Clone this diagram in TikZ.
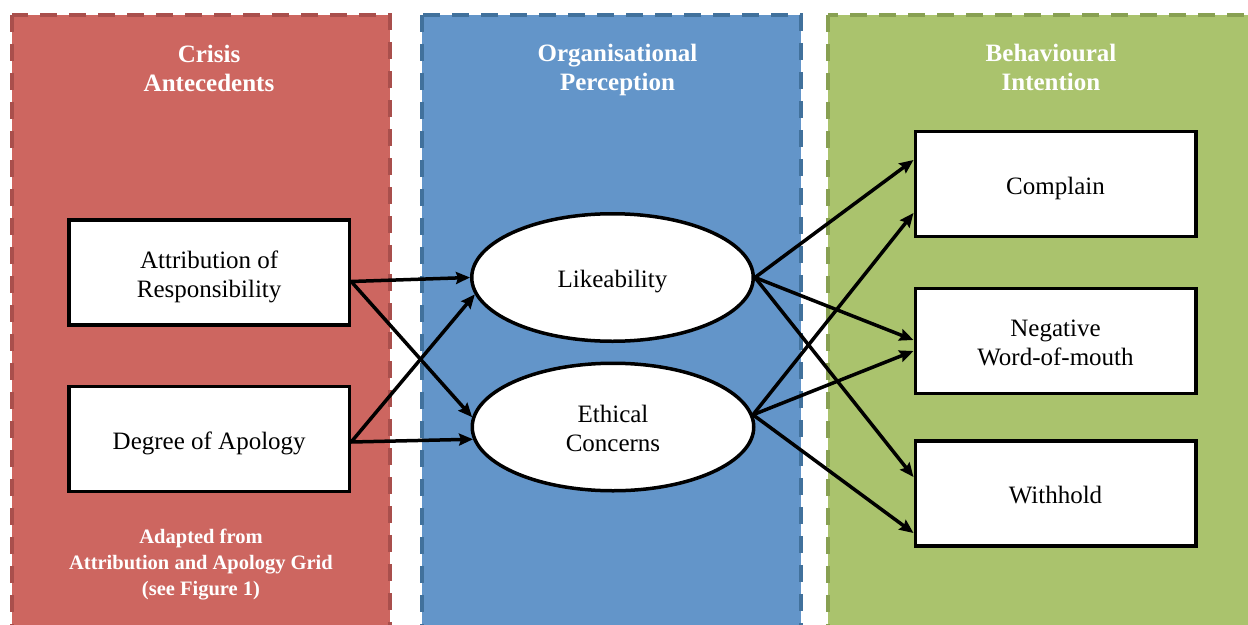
\documentclass[tikz,border=0pt]{standalone}
\usepackage{fontspec}
\setmainfont{Liberation Serif}
\usetikzlibrary{arrows.meta,shapes.geometric}

\definecolor{redfill}{HTML}{CD6660}
\definecolor{redline}{HTML}{A94F4C}
\definecolor{bluefill}{HTML}{6395C9}
\definecolor{blueline}{HTML}{41719C}
\definecolor{greenfill}{HTML}{AAC36D}
\definecolor{greenline}{HTML}{88A052}

\newcommand\bodyfont{\fontsize{25}{29}\selectfont}
\newcommand\headfont{\fontsize{25}{29}\selectfont\bfseries}
\newcommand\notefont{\fontsize{20.5}{26}\selectfont\bfseries}

\begin{document}
\begin{tikzpicture}[x=1pt,y=-1pt,
  panel/.style={line width=4pt, dash pattern=on 17pt off 12pt},
  heading/.style={text=white, font=\headfont, align=center, inner sep=0pt, anchor=base},
  note/.style={text=white, font=\notefont, align=center, inner sep=0pt, anchor=base},
  shapebase/.style={draw=black, line width=3.5pt, fill=white, inner sep=0pt,
    font=\bodyfont, align=center},
  onerow/.style={text height=23pt, text depth=3pt},
  tworow/.style={text height=52pt, text depth=3pt},
  box/.style={shapebase, rectangle, minimum width=280.5pt, minimum height=105pt},
  oval/.style={shapebase, ellipse, minimum width=281.5pt, minimum height=127.5pt},
  conn/.style={line width=3.5pt, -{Stealth[length=14pt,width=12pt,inset=2pt]}}]

\useasboundingbox (0,0) rectangle (1248,624);
\clip (0,0) rectangle (1248,624);

% three background columns
\draw[panel, fill=redfill, draw=redline] (12,14.7) rectangle (389.7,660);
\draw[panel, fill=bluefill, draw=blueline] (422,14.7) rectangle (800.7,660);
\draw[panel, fill=greenfill, draw=greenline] (828,14.7) rectangle (1275,660);

% column headings (anchored on the last line's baseline)
\node[heading] (hcrisis) at (209,91) {Crisis\\Antecedents};
\node[heading] (hperc) at (617.5,90.7) {Organisational\\Perception};
\node[heading] (hbehav) at (1051,90.7) {Behavioural\\Intention};
\node[note] (source) at (201,595) {Adapted from\\Attribution and Apology Grid\\(see Figure 1)};

% antecedents
\node[box, tworow] (attr) at (209.2,272.5) {Attribution of\\Responsibility};
\node[box, onerow] (degree) at (209.2,439) {Degree of Apology};

% perceptions
\node[oval, onerow] (like) at (612.5,277.5) {Likeability};
\node[oval, tworow] (ethic) at (613,427) {Ethical\\Concerns};

% intentions
\node[box, onerow] (complain) at (1055.5,184) {Complain};
\node[box, tworow] (neg) at (1055.5,341) {Negative\\Word-of-mouth};
\node[box, onerow] (withhold) at (1055.5,493.5) {Withhold};

% antecedents -> perceptions
\draw[conn] ([yshift=-9pt]attr.east) -- (like.west);
\draw[conn] ([yshift=-9pt]attr.east) -- (ethic.176);
\draw[conn] ([yshift=-3pt]degree.east) -- (like.187);
\draw[conn] ([yshift=-3pt]degree.east) -- (ethic.185);

% perceptions -> intentions
\draw[conn] (like.east) -- ([yshift=24pt]complain.west);
\draw[conn] (like.east) -- ([yshift=1pt]neg.west);
\draw[conn] (like.east) -- ([yshift=16.5pt]withhold.west);
\draw[conn] (ethic.5) -- ([yshift=-29pt]complain.west);
\draw[conn] (ethic.5) -- ([yshift=-10pt]neg.west);
\draw[conn] (ethic.5) -- ([yshift=-39.5pt]withhold.west);
\end{tikzpicture}
\end{document}
